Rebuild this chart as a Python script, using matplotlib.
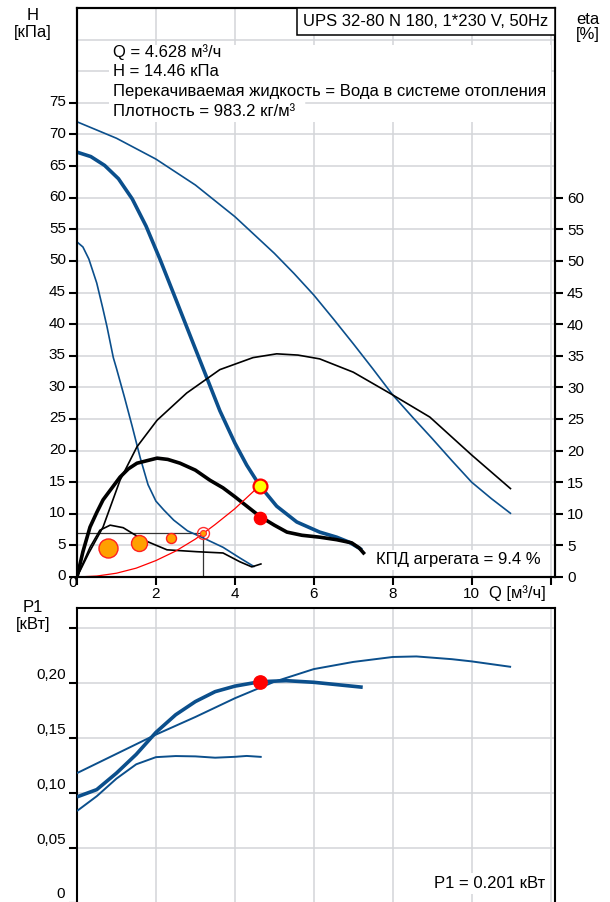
import matplotlib
matplotlib.use("Agg")
import matplotlib.pyplot as plt
from matplotlib.patches import Rectangle
from matplotlib.transforms import ScaledTranslation

plt.rcParams['font.family'] = ['Liberation Sans', 'DejaVu Sans']

BLUE = '#0b4f8c'
GRID = '#d3d5d9'
FS = 12
TFS = 11

# --- H(Q) curves, kPa ---
q_h_max = [0, 1, 2, 3, 4, 5, 5.5, 6, 6.5, 7, 7.5, 8, 8.5, 9, 9.5, 10, 10.5, 11.0]
h_max = [72.0, 69.4, 66.1, 62.0, 57.0, 51.2, 48.0, 44.6, 40.8, 36.9, 32.9, 28.8, 25.3, 21.9,
         18.4, 15.0, 12.4, 10.0]

q_h_op = [0, 0.35, 0.7, 1.05, 1.4, 1.75, 2.1, 2.5, 2.91, 3.24, 3.62, 4.0, 4.3, 4.63,
          5.06, 5.57, 6.15, 6.58, 6.9, 7.22]
h_op = [67.2, 66.5, 65.1, 63.0, 59.8, 55.5, 50.3, 44.0, 37.5, 32.3, 26.3, 21.2, 17.7, 14.46,
        11.2, 8.7, 7.1, 6.3, 5.5, 4.3]

q_h_min = [0, 0.15, 0.3, 0.5, 0.65, 0.76, 0.92, 1.0, 1.2, 1.4, 1.6, 1.8, 2.0, 2.2, 2.45,
           2.8, 3.19, 3.7, 4.13, 4.5]
h_min = [53.0, 52.2, 50.3, 46.5, 42.6, 39.6, 34.7, 33.0, 28.5, 23.8, 18.9, 14.6, 12.0, 10.6,
         9.0, 7.3, 6.2, 4.7, 3.0, 1.6]

# --- eta(Q) curves, % ---
q_eta_max = [0, 0.3, 0.66, 1.09, 1.52, 2.03, 2.78, 3.62, 4.46, 5.06, 5.6, 6.15, 7, 8, 8.94, 10, 11.0]
eta_max = [0, 3.8, 7.9, 15.3, 20.6, 24.8, 29.1, 32.8, 34.7, 35.3, 35.1, 34.5, 32.4, 28.8, 25.3, 19.3, 13.9]

q_eta_op = [0, 0.15, 0.33, 0.5, 0.66, 1.09, 1.3, 1.52, 2.03, 2.3, 2.61, 3.0, 3.37, 3.7, 4.0,
            4.63, 5.0, 5.32, 5.7, 6.15, 6.58, 6.96, 7.15, 7.29]
eta_op = [0, 4.0, 7.9, 10.2, 12.2, 15.8, 17.1, 18.0, 18.8, 18.6, 18.0, 16.9, 15.3, 14.1, 12.7,
          9.6, 8.2, 7.1, 6.6, 6.3, 5.9, 5.4, 4.6, 3.6]

q_eta_min = [0, 0.33, 0.58, 0.84, 1.17, 1.67, 2.28, 3.04, 3.7, 4.13, 4.43, 4.68]
eta_min = [0, 4.7, 7.4, 8.2, 7.8, 5.9, 4.3, 4.0, 3.8, 2.4, 1.6, 2.1]

# system curve
q_sys = [0, 0.5, 1, 1.5, 2, 2.5, 3, 3.2, 3.5, 4, 4.63]
h_sys = [0, 0.15, 0.6, 1.4, 2.6, 4.1, 6.0, 6.9, 8.3, 10.8, 14.46]

# load profile points
q_load = [0.78, 1.57, 2.38]
h_load = [4.6, 5.4, 6.2]
load_ms = [13.7, 11.5, 7.2]
q_ref, h_ref = 3.2, 7.0

# duty point
q_duty = 4.628
h_duty = 14.46
eta_duty = 9.4
p1_duty = 0.201

# --- P1(Q) curves, kW ---
q_p_op = [0, 0.5, 1, 1.5, 2, 2.5, 3, 3.5, 4, 4.63, 5.3, 6, 7.24]
p_op = [0.0964, 0.103, 0.118, 0.135, 0.155, 0.171, 0.183, 0.192, 0.197, 0.201, 0.202, 0.2005, 0.196]

q_p_max = [0, 1, 2, 3, 4, 5, 6, 7, 8, 8.6, 9.5, 10, 11.0]
p_max = [0.118, 0.1355, 0.153, 0.169, 0.186, 0.201, 0.2125, 0.219, 0.2235, 0.224, 0.2215,
         0.2195, 0.2145]

q_p_min = [0, 0.5, 1, 1.5, 2, 2.5, 3, 3.5, 4, 4.3, 4.68]
p_min = [0.0836, 0.097, 0.113, 0.126, 0.1325, 0.1335, 0.1332, 0.132, 0.1328, 0.1336, 0.1327]

x_ticks = [0, 2, 4, 6, 8, 10, 12]
h_ticks = list(range(0, 80, 5))
eta_ticks = list(range(0, 65, 5))
p_ticks = [0, 0.05, 0.10, 0.15, 0.20, 0.25]
p_labels = ['', '0,05', '0,10', '0,15', '0,20', '']

W, H = 610, 902
fig = plt.figure(figsize=(W / 100, H / 100), dpi=100)


def box(l, t, r, b):
    return [l / W, 1 - b / H, (r - l) / W, (b - t) / H]


def ftext(x, y, s, **kw):
    fig.text(x / W, 1 - y / H, s, **kw)


def lift_labels(labels, px):
    for lbl in labels:
        lbl.set_transform(lbl.get_transform() + ScaledTranslation(0, px / 100, fig.dpi_scale_trans))


def style_axes(a):
    for sp in a.spines.values():
        sp.set_linewidth(1.5)
        sp.set_color('black')
    a.tick_params(direction='out', length=6, width=1.5, labelsize=TFS, pad=2)
    for x in x_ticks[1:]:
        a.axvline(x, color=GRID, lw=1.1, zorder=0)


def curve(a, q, v, **kw):
    a.plot(q, v, solid_joinstyle='round', solid_capstyle='butt', **kw)


# ---------- top chart ----------
ax = fig.add_axes(box(77, 8, 554.5, 577))
ax.set_xlim(0, 12.1)
ax.set_ylim(0, 90)
style_axes(ax)
for v in range(5, 90, 5):
    ax.axhline(v, color=GRID, lw=1.1, zorder=0)
ax.set_xticks(x_ticks)
ax.set_xticklabels(['', '2', '4', '6', '8', '10', ''])
ax.tick_params(axis='x', pad=1.5)
ax.set_yticks(h_ticks)
ax.set_yticklabels([str(t) for t in h_ticks])
lift_labels(ax.get_yticklabels(), 2)

ax2 = ax.twinx()
ax2.set_ylim(0, 90)
ax2.set_yticks(eta_ticks)
ax2.set_yticklabels([str(t) for t in eta_ticks])
for sp in ax2.spines.values():
    sp.set_linewidth(1.5)
ax2.tick_params(direction='out', length=6, width=1.5, labelsize=TFS, pad=3)

# white area behind text block
ax.add_patch(Rectangle((0.8, 72), 11.2, 12.2, facecolor='white', edgecolor='none', zorder=1))
ax.axhline(75, xmin=5.8 / 12.1, xmax=12.0 / 12.1, color=GRID, lw=1.1, zorder=1.5)

curve(ax, q_h_max, h_max, color=BLUE, lw=1.2, zorder=3)
curve(ax, q_h_min, h_min, color=BLUE, lw=1.2, zorder=3)
curve(ax, q_h_op, h_op, color=BLUE, lw=2.6, zorder=3)
curve(ax, q_eta_max, eta_max, color='black', lw=1.2, zorder=3)
curve(ax, q_eta_min, eta_min, color='black', lw=1.2, zorder=3)
curve(ax, q_eta_op, eta_op, color='black', lw=2.6, zorder=4)
curve(ax, q_sys, h_sys, color='red', lw=0.9, zorder=4)

ax.plot([0, q_ref], [h_ref, h_ref], color='#333333', lw=0.9, zorder=2)
ax.plot([q_ref, q_ref], [0, h_ref], color='#333333', lw=0.9, zorder=2)

for q, h, ms in zip(q_load, h_load, load_ms):
    ax.plot(q, h, 'o', ms=ms, mfc='#ffa000', mec='#ff2020', mew=1.0, zorder=5)
ax.plot(q_ref, h_ref, 'o', ms=8.6, mfc='none', mec='#ff3030', mew=1.0, zorder=5)
ax.plot(q_ref, h_ref, 'o', ms=4.3, mfc='#ffa000', mec='#ff3030', mew=0.8, zorder=5)
ax.plot(q_duty, h_duty, 'o', ms=10, mfc='#ffff00', mec='#ff0000', mew=1.6, zorder=6)
ax.plot(q_duty, eta_duty, 'o', ms=8.8, mfc='#ff0000', mec='#ff0000', zorder=6)

ax.text(11.75, 2.7, 'КПД агрегата = 9.4 %', ha='right', va='center', fontsize=FS,
        zorder=7, bbox=dict(facecolor='white', edgecolor='none', pad=2))

# labels
ftext(33, 15, 'H', ha='center', va='center', fontsize=FS)
ftext(33, 33, '[кПа]', ha='center', va='center', fontsize=FS)
ftext(588, 20, 'eta', ha='center', va='center', fontsize=FS)
ftext(588, 34, '[%]', ha='center', va='center', fontsize=FS)
ftext(73, 583, '0', ha='center', va='center', fontsize=TFS)
ftext(517, 593, 'Q [м³/ч]', ha='center', va='center', fontsize=FS)

info = ['Q = 4.628 м³/ч', 'H = 14.46 кПа',
        'Перекачиваемая жидкость = Вода в системе отопления',
        'Плотность = 983.2 кг/м³']
for i, s in enumerate(info):
    ftext(113, 52 + i * 19.7, s, ha='left', va='center', fontsize=FS)

fig.patches.append(Rectangle((297 / W, 1 - 35 / H), (555 - 297) / W, 27 / H,
                             transform=fig.transFigure, facecolor='white',
                             edgecolor='black', lw=1.1, zorder=5))
ftext(426, 21.5, 'UPS 32-80 N 180, 1*230 V, 50Hz', ha='center', va='center',
      fontsize=FS, zorder=6)

# ---------- bottom chart ----------
bx = fig.add_axes(box(77, 608, 554.5, 903))
bx.set_xlim(0, 12.1)
bx.set_ylim(0, 0.268)
style_axes(bx)
for v in p_ticks[1:]:
    bx.axhline(v, color=GRID, lw=1.1, zorder=0)
bx.set_xticks([])
bx.set_yticks(p_ticks)
bx.set_yticklabels(p_labels)
lift_labels(bx.get_yticklabels(), 9)

curve(bx, q_p_max, p_max, color=BLUE, lw=1.4, zorder=3)
curve(bx, q_p_min, p_min, color=BLUE, lw=1.4, zorder=3)
curve(bx, q_p_op, p_op, color=BLUE, lw=2.6, zorder=3)
bx.plot(q_duty, p1_duty, 'o', ms=9.6, mfc='#ff0000', mec='#ff0000', zorder=6)

bx.text(11.85, 0.0175, 'P1 = 0.201 кВт', ha='right', va='center', fontsize=FS,
        zorder=7, bbox=dict(facecolor='white', edgecolor='none', pad=2))

ftext(61, 894, '0', ha='center', va='center', fontsize=TFS)
ftext(33, 607, 'P1', ha='center', va='center', fontsize=FS)
ftext(33, 625, '[кВт]', ha='center', va='center', fontsize=FS)

fig.savefig('out.png', dpi=100)
